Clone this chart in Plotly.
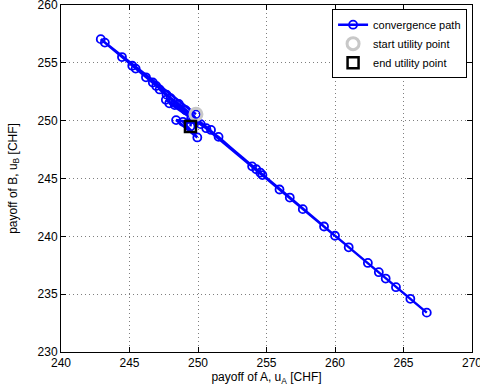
import plotly.graph_objects as go

# convergence path (payoff of A, payoff of B)
ua_path = [249.85,
           242.9, 266.7, 243.2, 265.5, 244.45, 264.45, 245.2, 263.7, 245.45, 263.2,
           246.2, 262.4, 246.7, 261.0, 246.95, 260.0, 247.2, 259.2, 247.7, 257.65,
           248.0, 256.7, 248.6, 255.95, 249.1, 254.7, 254.55, 254.25, 253.95,
           251.5, 247.65, 250.95, 248.3, 250.6, 247.9, 250.2, 248.4, 249.95, 248.9,
           249.5, 249.45]
ub_path = [250.55,
           257.05, 233.4, 256.75, 234.6, 255.5, 235.6, 254.75, 236.35, 254.5, 236.9,
           253.75, 237.7, 253.3, 239.05, 253.0, 240.05, 252.7, 240.85, 252.25, 242.35,
           251.95, 243.35, 251.45, 244.05, 250.9, 245.3, 245.5, 245.8, 246.05,
           248.6, 251.8, 249.2, 251.35, 249.35, 251.5, 249.7, 250.05, 248.55, 249.9,
           250.2, 249.5]

start_point = (249.85, 250.55)
end_point = (249.45, 249.5)

x_ticks = [240, 245, 250, 255, 260, 265, 270]
y_ticks = [230, 235, 240, 245, 250, 255, 260]

fig = go.Figure()
fig.add_trace(go.Scatter(
    x=ua_path, y=ub_path, mode="lines+markers", name="convergence path",
    line=dict(color="#0000ff", width=2.5),
    marker=dict(symbol="circle-open", size=8, color="#0000ff", line=dict(width=1.8)),
))
fig.add_trace(go.Scatter(
    x=[start_point[0]], y=[start_point[1]], mode="markers", name="start utility point",
    marker=dict(symbol="circle-open", size=12, color="#c8c8c8", line=dict(width=3)),
))
fig.add_trace(go.Scatter(
    x=[end_point[0]], y=[end_point[1]], mode="markers", name="end utility point",
    marker=dict(symbol="square-open", size=11, color="#000000", line=dict(width=2.5)),
))

axis_common = dict(
    showline=True, linecolor="black", linewidth=1, mirror="ticks",
    ticks="inside", ticklen=5, tickcolor="black",
    showgrid=True, gridcolor="rgba(0,0,0,0.5)", griddash="1px,3px", gridwidth=1,
    zeroline=False, tickfont=dict(size=12, color="black"),
    ticklabeloverflow="allow", automargin=False,
)

fig.update_xaxes(range=[239.999, 270.001], tickvals=x_ticks, ticktext=[str(v) for v in x_ticks],
                 title=dict(text="payoff of A, u<sub>A</sub> [CHF]", font=dict(size=12, color="black"),
                            standoff=0),
                 **axis_common)
fig.update_yaxes(range=[229.999, 260.001], tickvals=y_ticks, ticktext=[str(v) for v in y_ticks],
                 title=dict(text="payoff of B, u<sub>B</sub> [CHF]", font=dict(size=12, color="black"),
                            standoff=17),
                 **axis_common)

fig.update_layout(
    width=480, height=392,
    margin=dict(l=61, r=8, t=5, b=40),
    plot_bgcolor="white", paper_bgcolor="white",
    font=dict(family="Liberation Sans, Arial, sans-serif", color="black"),
    legend=dict(x=0.988, y=0.988, xanchor="right", yanchor="top",
                bgcolor="white", bordercolor="black", borderwidth=1,
                font=dict(size=11), tracegroupgap=0, itemwidth=30),
    showlegend=True,
)

fig.write_html("out.html")
